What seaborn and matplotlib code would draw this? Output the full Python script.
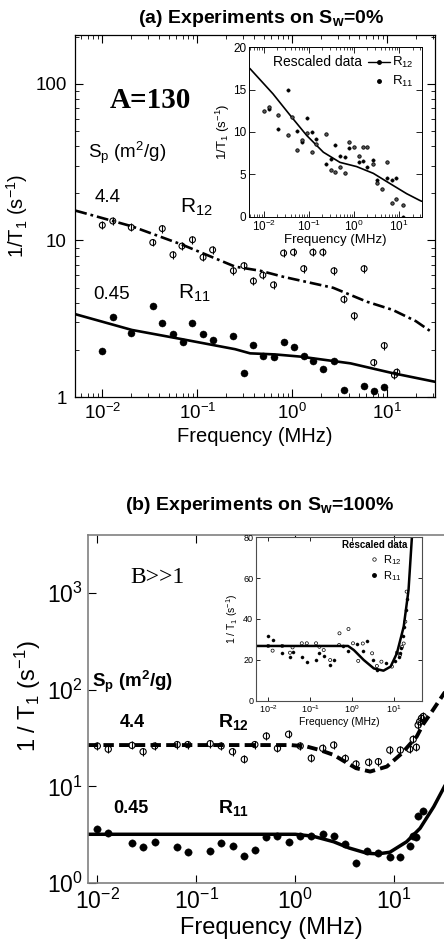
import numpy as np
import pandas as pd
import matplotlib
matplotlib.use("Agg")
import matplotlib.pyplot as plt
from matplotlib.lines import Line2D
from matplotlib.ticker import FixedLocator, FixedFormatter, LogLocator, NullFormatter, NullLocator
import seaborn as sns

# ---------------- data: panel (a) main ----------------
f_r12_a = [0.01, 0.0129, 0.0202, 0.034, 0.0428, 0.0555, 0.069, 0.089, 0.115, 0.145, 0.24, 0.31, 0.39,
           0.49, 0.635, 0.81, 1.03, 1.32, 1.65, 2.1, 2.75, 3.5, 4.5, 5.7, 7.2, 9.3, 11.9, 12.6]
y_r12_a = [12.5, 13.3, 12.1, 9.7, 11.9, 8.1, 9.2, 10.1, 7.8, 8.7, 6.4, 6.9, 5.5,
           6.0, 5.2, 8.3, 8.4, 6.6, 8.4, 8.4, 6.4, 4.2, 3.3, 6.6, 1.66, 2.13, 1.38, 1.44]
f_r11_a = [0.01, 0.0129, 0.0202, 0.034, 0.0428, 0.0555, 0.07, 0.089, 0.115, 0.145, 0.24, 0.31, 0.39,
           0.49, 0.635, 0.81, 1.03, 1.32, 1.65, 2.1, 2.75, 3.5, 5.7, 7.2, 9.3]
y_r11_a = [1.97, 3.25, 2.58, 3.81, 2.98, 2.54, 2.24, 2.96, 2.54, 2.31, 2.45, 1.42, 2.16,
           1.82, 1.81, 2.25, 2.08, 1.82, 1.69, 1.50, 1.69, 1.11, 1.18, 1.09, 1.15]
fit_f_r12_a = [0.0052, 0.0061, 0.0205, 0.069, 0.25, 0.46, 0.81, 2.7, 6.1, 11.4, 20.0, 28.0]
fit_y_r12_a = [15.5, 15.1, 12.3, 9.4, 6.8, 6.4, 5.85, 4.98, 4.06, 3.6, 3.05, 2.65]
fit_f_r11_a = [0.0052, 0.0205, 0.069, 0.25, 0.36, 0.66, 1.23, 4.1, 11.4, 32.0]
fit_y_r11_a = [3.38, 2.68, 2.34, 2.02, 1.90, 1.87, 1.81, 1.64, 1.42, 1.25]

# ---------------- data: panel (a) inset (rescaled) ----------------
ins_f_r12_a = [0.01, 0.0129, 0.021, 0.035, 0.043, 0.056, 0.071, 0.089, 0.115, 0.143, 0.24, 0.31, 0.38,
               0.49, 0.63, 0.79, 1.0, 1.3, 1.6, 2.0, 2.6, 3.3, 4.3, 5.4, 6.9, 8.8, 12.0]
ins_y_r12_a = [12.5, 13.0, 12.0, 9.6, 11.8, 7.9, 9.1, 9.9, 7.6, 8.6, 9.7, 5.5, 5.3,
               5.9, 5.1, 8.8, 8.2, 7.1, 8.2, 8.2, 6.2, 4.0, 3.2, 6.4, 1.6, 2.1, 1.4]
ins_f_r11_a = [0.0129, 0.021, 0.035, 0.056, 0.071, 0.089, 0.115, 0.143, 0.24, 0.31, 0.38, 0.49,
               0.63, 0.79, 1.3, 1.6, 2.0, 2.6, 3.3, 5.4, 6.9, 8.8, 12.0]
ins_y_r11_a = [12.7, 10.3, 15.0, 10.1, 8.8, 11.7, 10.0, 9.2, 6.2, 6.8, 8.4, 7.1,
               7.0, 8.1, 6.5, 6.6, 5.8, 6.7, 4.3, 4.5, 4.3, 4.5, 0.0]
ins_fit_f_a = [0.0049, 0.016, 0.038, 0.089, 0.21, 0.49, 1.15, 2.7, 6.3, 14.8, 29.0, 32.0]
ins_fit_y_a = [17.5, 14.5, 12.0, 9.6, 7.6, 6.4, 5.9, 5.1, 3.9, 2.7, 1.9, 1.8]

# ---------------- data: panel (b) main ----------------
f_r12_b = [0.01, 0.0129, 0.0224, 0.029, 0.038, 0.064, 0.082, 0.138, 0.178, 0.232, 0.305, 0.39, 0.51,
           0.66, 0.855, 1.12, 1.45, 1.89, 2.44, 3.2, 4.1, 5.5, 6.9, 9.0, 11.5, 14.3, 15.5, 16.7,
           17.4, 18.0, 18.8, 19.6]
y_r12_b = [26.1, 24.2, 26.5, 22.8, 26.1, 27.0, 27.0, 27.6, 26.1, 22.8, 19.0, 27.0, 33.1,
           24.7, 34.5, 26.1, 19.5, 24.7, 26.7, 19.4, 17.0, 17.7, 18.0, 23.7, 23.7, 24.2, 30.6, 25.3,
           43.0, 46.5, 50.5, 52.7]
f_r11_b = [0.01, 0.0129, 0.0224, 0.029, 0.038, 0.064, 0.082, 0.138, 0.178, 0.232, 0.305, 0.39, 0.51,
           0.66, 0.855, 1.12, 1.45, 1.89, 2.44, 3.2, 4.1, 5.3, 6.8, 9.0, 11.5, 14.3, 15.5, 16.5, 17.4, 19.6]
y_r11_b = [3.59, 3.31, 2.61, 2.37, 2.63, 2.37, 2.11, 2.16, 2.57, 2.43, 1.90, 2.19, 2.97,
           3.06, 2.67, 3.06, 3.06, 3.19, 3.06, 2.53, 1.60, 2.16, 2.03, 1.87, 1.84, 2.43, 3.06, 2.97, 4.93, 5.6]
fit_f_r12_b = [0.008, 0.9, 1.3, 1.77, 2.44, 3.05, 4.1, 5.7, 8.4, 11.9, 16.8, 19.6, 23.9, 31.0, 36.0]
fit_y_r12_b = [26.7, 26.7, 25.8, 23.7, 21.1, 18.4, 15.4, 14.2, 16.0, 21.9, 32.6, 44.0, 59.0, 88.0, 110.0]
fit_f_r11_b = [0.008, 1.0, 1.5, 2.44, 3.5, 5.3, 6.8, 9.0, 13.3, 18.2, 25.0, 32.0, 36.0]
fit_y_r11_b = [3.19, 3.19, 3.05, 2.67, 2.3, 2.03, 2.0, 2.08, 2.67, 3.68, 6.15, 9.9, 12.5]

# ---------------- data: panel (b) inset (rescaled) ----------------
ins_f_r12_b = [0.01, 0.0127, 0.0216, 0.033, 0.038, 0.063, 0.083, 0.138, 0.166, 0.21, 0.3, 0.49, 0.5,
               0.82, 1.05, 1.4, 1.8, 3.0, 3.9, 5.0, 8.9, 11.7, 14.0, 15.5, 17.0, 18.6, 20.0]
ins_y_r12_b = [26.8, 24.5, 26.8, 23.5, 26.1, 28.1, 28.1, 28.1, 26.4, 24.8, 19.9, 27.3, 33.0,
               35.1, 28.1, 19.5, 28.0, 23.2, 17.0, 19.1, 16.7, 23.5, 22.4, 26.4, 28.0, 38.7, 53.4]
ins_f_r11_b = [0.01, 0.0127, 0.0216, 0.033, 0.038, 0.063, 0.083, 0.138, 0.166, 0.21, 0.3, 0.37, 0.62,
               0.82, 1.34, 1.8, 2.3, 3.2, 4.0, 6.6, 10.8, 12.9, 13.7, 15.0, 16.3, 17.7, 19.4, 20.5]
ins_y_r11_b = [31.7, 29.7, 23.2, 21.5, 24.0, 21.5, 19.1, 19.9, 23.2, 21.9, 17.5, 19.9, 26.8,
               24.5, 27.8, 24.5, 29.2, 19.9, 15.0, 18.3, 19.6, 21.2, 23.5, 25.6, 31.7, 36.0, 44.4, 50.0]
ins_fit_f_b = [0.0051, 0.8, 1.1, 1.9, 3.3, 5.6, 8.3, 11.7, 17.0, 22.2, 26.7, 28.5]
ins_fit_y_b = [26.8, 26.8, 24.8, 19.9, 15.8, 14.7, 16.7, 23.2, 36.2, 54.2, 80.0, 92.0]

# tick labels
log_x_ticks = [1e-2, 1e-1, 1e0, 1e1]
log_x_labels = [r"$10^{-2}$", r"$10^{-1}$", r"$10^{0}$", r"$10^{1}$"]
a_y_ticks = [1, 10, 100]
a_y_labels = ["1", "10", "100"]
b_y_ticks = [1, 10, 100, 1000]
b_y_labels = [r"$10^{0}$", r"$10^{1}$", r"$10^{2}$", r"$10^{3}$"]
ai_y_ticks = [0, 5, 10, 15, 20]
bi_y_ticks = [0, 20, 40, 60, 80]

# ---------------- style ----------------
sns.set_theme(style="ticks")
plt.rcParams["font.family"] = ["Liberation Sans", "DejaVu Sans"]
plt.rcParams.update({
    "mathtext.fontset": "custom",
    "mathtext.rm": "Liberation Sans",
    "mathtext.it": "Liberation Sans:italic",
    "mathtext.bf": "Liberation Sans:bold",
    "axes.edgecolor": "black",
    "text.color": "black",
    "axes.labelcolor": "black",
    "xtick.color": "black",
    "ytick.color": "black",
    "lines.scale_dashes": False,
})

W, H = 444, 950
fig = plt.figure(figsize=(W / 100, H / 100), dpi=100)


def box(l, t, r, b):
    return [l / W, 1 - b / H, (r - l) / W, (b - t) / H]


def fx(px):
    return px / W


def fy(py):
    return 1 - py / H


def open_pts(ax, f, y, s, lw, fac):
    sns.scatterplot(x=f, y=y, ax=ax, marker="o", s=s, color="black", edgecolor="black",
                    linewidth=lw, legend=False, zorder=3)
    ax.collections[-1].set_facecolor("none")
    y = np.asarray(y, float)
    ax.errorbar(f, y, yerr=[y - y / fac, y * fac - y], fmt="none", ecolor="black",
                elinewidth=lw, capsize=0, zorder=3)


def filled_pts(ax, f, y, s):
    sns.scatterplot(x=f, y=y, ax=ax, marker="o", s=s, color="black", edgecolor="black",
                    linewidth=0.3, legend=False, zorder=3)


def curve(ax, f, y, lw, ls="-"):
    sns.lineplot(x=f, y=y, ax=ax, color="black", lw=lw, linestyle=ls, sort=False,
                 estimator=None, legend=False, zorder=2)


def log_x(ax):
    ax.set_xscale("log")
    ax.xaxis.set_major_locator(FixedLocator(log_x_ticks))
    ax.xaxis.set_major_formatter(FixedFormatter(log_x_labels))


# ================= panel (a) main =================
ax = fig.add_axes(box(75, 35, 435, 397))
ax.set_xscale("log")
ax.set_yscale("log")
curve(ax, fit_f_r12_a, fit_y_r12_a, 1.9, (0, (8.5, 2.8, 2.0, 2.8)))
curve(ax, fit_f_r11_a, fit_y_r11_a, 1.9)
open_pts(ax, f_r12_a, y_r12_a, 18, 0.8, 1.06)
filled_pts(ax, f_r11_a, y_r11_a, 26)
ax.set_xlim(0.00516, 31.8)
ax.set_ylim(1, 205)
log_x(ax)
ax.xaxis.set_minor_locator(LogLocator(base=10, subs=np.arange(2, 10), numticks=30))
ax.xaxis.set_minor_formatter(NullFormatter())
ax.yaxis.set_major_locator(FixedLocator(a_y_ticks))
ax.yaxis.set_major_formatter(FixedFormatter(a_y_labels))
ax.yaxis.set_minor_locator(LogLocator(base=10, subs=np.arange(2, 10), numticks=30))
ax.yaxis.set_minor_formatter(NullFormatter())
ax.tick_params(which="major", direction="in", length=6, width=0.8, top=True, right=True, labelsize=13.5)
ax.tick_params(which="minor", direction="in", length=3, width=0.6, top=True, right=True)
ax.tick_params(axis="x", which="major", pad=4)
ax.tick_params(axis="y", which="major", pad=6)
for s in ax.spines.values():
    s.set_linewidth(0.9)
ax.set_xlabel("Frequency (MHz)", fontsize=14.5, labelpad=3)
ax.set_ylabel(r"1/T$_1$ (s$^{-1}$)", fontsize=14.5, labelpad=4)

fig.text(fx(261), fy(23), r"(a) Experiments on S$_{\mathbf{w}}$=0%", ha="center", va="baseline",
         fontsize=14, fontweight="bold")
fig.text(fx(110), fy(108), "A=130", ha="left", va="baseline", fontsize=21, fontweight="bold",
         family=["Liberation Serif", "DejaVu Serif"])
fig.text(fx(88), fy(158), r"S$_\mathrm{p}$ (m$^2$/g)", ha="left", va="baseline", fontsize=13.5)
fig.text(fx(95), fy(202), "4.4", ha="left", va="baseline", fontsize=13.5)
fig.text(fx(180), fy(213), r"R$_{12}$", ha="left", va="baseline", fontsize=15)
fig.text(fx(93), fy(299), "0.45", ha="left", va="baseline", fontsize=13.5)
fig.text(fx(178), fy(299), r"R$_{11}$", ha="left", va="baseline", fontsize=15)

# ================= panel (a) inset =================
ai = fig.add_axes(box(249, 47.3, 421.7, 216.5))
ai.set_facecolor("white")
ai.set_xscale("log")
curve(ai, ins_fit_f_a, ins_fit_y_a, 1.2)
filled_pts(ai, ins_f_r11_a, ins_y_r11_a, 6)
sns.scatterplot(x=ins_f_r12_a, y=ins_y_r12_a, ax=ai, marker="o", s=6, color="black",
                edgecolor="black", linewidth=0.6, legend=False, zorder=3)
ai.collections[-1].set_facecolor("0.35")
ai.set_xlim(0.0047, 32)
ai.set_ylim(0, 20)
log_x(ai)
ai.xaxis.set_minor_locator(LogLocator(base=10, subs=np.arange(2, 10), numticks=30))
ai.xaxis.set_minor_formatter(NullFormatter())
ai.yaxis.set_major_locator(FixedLocator(ai_y_ticks))
ai.yaxis.set_major_formatter(FixedFormatter([str(v) for v in ai_y_ticks]))
ai.tick_params(which="major", direction="in", length=4, width=0.6, top=True, right=True, labelsize=8.5, pad=2)
ai.tick_params(which="minor", direction="in", length=2, width=0.5, top=True, right=True)
for s in ai.spines.values():
    s.set_linewidth(0.7)
ai.set_xlabel("Frequency (MHz)", fontsize=9.5, labelpad=0)
ai.set_ylabel(r"1/T$_1$ (s$^{-1}$)", fontsize=9.5, labelpad=1)
ai.text(fx(273), fy(66), "Rescaled data", transform=fig.transFigure, ha="left", va="baseline",
        fontsize=10)
h12 = Line2D([], [], color="black", lw=1.0, marker="o", markersize=2.5)
h11 = Line2D([], [], color="black", lw=0, marker="o", markersize=2.5)
ai.legend([h12, h11], [r"R$_{12}$", r"R$_{11}$"], loc="upper right", frameon=False, fontsize=9.5,
          handlelength=1.6, handletextpad=0.2, borderaxespad=0.2, labelspacing=0.3)

# ================= panel (b) main =================
bx = fig.add_axes(box(88, 535, 455, 883))
bx.set_xscale("log")
bx.set_yscale("log")
curve(bx, fit_f_r12_b, fit_y_r12_b, 2.8, (0, (7.5, 3.8)))
curve(bx, fit_f_r11_b, fit_y_r11_b, 2.5)
open_pts(bx, f_r12_b, y_r12_b, 20, 0.8, 1.1)
filled_pts(bx, f_r11_b, y_r11_b, 28)
bx.set_xlim(0.00805, 41)
bx.set_ylim(1, 3970)
log_x(bx)
bx.xaxis.set_minor_locator(NullLocator())
bx.yaxis.set_major_locator(FixedLocator(b_y_ticks))
bx.yaxis.set_major_formatter(FixedFormatter(b_y_labels))
bx.yaxis.set_minor_locator(NullLocator())
bx.tick_params(which="major", direction="in", length=6, width=0.8, top=True, right=False, labelsize=16.5)
bx.tick_params(axis="x", pad=4)
bx.tick_params(axis="y", pad=4)
for s in bx.spines.values():
    s.set_linewidth(1.2)
    s.set_color("0.5")
bx.set_xlabel("Frequency (MHz)", fontsize=17, labelpad=2)
fig.text(fx(28), fy(696), r"1 / T$_1$ (s$^{-1}$)", rotation=90, ha="center", va="center", fontsize=17)

fig.text(fx(260), fy(510), r"(b) Experiments on S$_{\mathbf{w}}$=100%", ha="center", va="baseline",
         fontsize=14, fontweight="bold")
fig.text(fx(130), fy(583), "B>>1", ha="left", va="baseline", fontsize=17,
         family=["Liberation Serif", "DejaVu Serif"])
fig.text(fx(92), fy(687), r"S$_\mathbf{p}$ (m$^\mathbf{2}$/g)", ha="left", va="baseline", fontsize=13.5,
         fontweight="bold")
fig.text(fx(120), fy(727), "4.4", ha="left", va="baseline", fontsize=13, fontweight="bold")
fig.text(fx(218), fy(727), r"R$_\mathbf{12}$", ha="left", va="baseline", fontsize=14, fontweight="bold")
fig.text(fx(113), fy(813), "0.45", ha="left", va="baseline", fontsize=13, fontweight="bold")
fig.text(fx(218), fy(813), r"R$_\mathbf{11}$", ha="left", va="baseline", fontsize=14, fontweight="bold")

# ================= panel (b) inset =================
bi = fig.add_axes(box(256, 537.3, 422, 700.7))
bi.set_facecolor("white")
bi.set_xscale("log")
curve(bi, ins_fit_f_b, ins_fit_y_b, 1.8)
sns.scatterplot(x=ins_f_r12_b, y=ins_y_r12_b, ax=bi, marker="o", s=5, color="black",
                edgecolor="black", linewidth=0.5, legend=False, zorder=3)
bi.collections[-1].set_facecolor("none")
filled_pts(bi, ins_f_r11_b, ins_y_r11_b, 5)
bi.set_xlim(0.0051, 46.5)
bi.set_ylim(0, 80)
log_x(bi)
bi.xaxis.set_minor_locator(NullLocator())
bi.yaxis.set_major_locator(FixedLocator(bi_y_ticks))
bi.yaxis.set_major_formatter(FixedFormatter([str(v) for v in bi_y_ticks]))
bi.tick_params(which="major", direction="in", length=3, width=0.6, top=True, right=True, labelsize=6.5, pad=2)
for s in bi.spines.values():
    s.set_linewidth(0.8)
    s.set_color("0.3")
bi.set_xlabel("Frequency (MHz)", fontsize=7.5, labelpad=1)
bi.set_ylabel(r"1 / T$_1$ (s$^{-1}$)", fontsize=7.5, labelpad=2)
bi.text(fx(407), fy(548), "Rescaled data", transform=fig.transFigure, ha="right", va="baseline",
        fontsize=7, fontweight="bold")
g12 = Line2D([], [], color="black", lw=0, marker="o", markersize=2.5, markerfacecolor="none", markeredgewidth=0.5)
g11 = Line2D([], [], color="black", lw=0, marker="o", markersize=2.5)
bi.legend([g12, g11], [r"R$_{12}$", r"R$_{11}$"], loc="upper left", bbox_to_anchor=(0.66, 0.93),
          frameon=False, fontsize=8, handlelength=0.8, handletextpad=0.4, borderaxespad=0.0,
          labelspacing=0.2)

fig.savefig("out.png", dpi=100)
